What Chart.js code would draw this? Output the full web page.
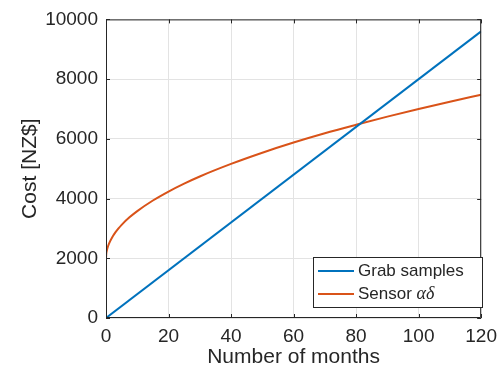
<!DOCTYPE html>
<html>
<head>
<meta charset="utf-8">
<script src="https://cdn.jsdelivr.net/npm/chart.js@4.4.1/dist/chart.umd.min.js"></script>
<style>
  html, body { margin: 0; padding: 0; background: #fff; }
  #wrap { width: 504px; height: 378px; }
</style>
</head>
<body>
<div id="wrap"><canvas id="c" width="504" height="378"></canvas></div>
<script>
// values
const grabMonths = [0, 120];
const grabCost = [0, 9600];
const sensorMonths = [0, 0.1, 0.25, 0.5, 1, 2, 3, 4, 5, 7.5, 10, 15, 20, 25, 30, 40, 50, 60, 70, 80, 90, 100, 110, 120];
const sensorCost = [2000, 2160, 2250, 2355, 2500, 2705, 2865, 3000, 3120, 3370, 3580, 3935, 4235, 4500, 4740, 5160, 5535, 5875, 6185, 6470, 6745, 7000, 7245, 7475];
const xTicks = [0, 20, 40, 60, 80, 100, 120];
const yTicks = [0, 2000, 4000, 6000, 8000, 10000];
const seriesNames = ['Grab samples', 'Sensor '];

const ink = '#262626';
const blue = '#0072BD';
const orange = '#D95319';

const toPoints = (xs, ys) => xs.map((x, i) => ({ x: x, y: ys[i] }));

const frame = {
  id: 'frame',
  afterDatasetsDraw(chart) {
    const ctx = chart.ctx;
    const a = chart.chartArea;
    const sx = chart.scales.x;
    const sy = chart.scales.y;
    ctx.save();
    ctx.strokeStyle = ink;
    ctx.lineWidth = 1;
    ctx.beginPath();
    ctx.rect(a.left + 0.5, a.top + 0.5, a.right - a.left - 1, a.bottom - a.top - 1);
    xTicks.forEach(v => {
      const px = Math.round(sx.getPixelForValue(v)) + 0.5;
      ctx.moveTo(px, a.bottom); ctx.lineTo(px, a.bottom - 4);
      ctx.moveTo(px, a.top); ctx.lineTo(px, a.top + 4);
    });
    yTicks.forEach(v => {
      const py = Math.round(sy.getPixelForValue(v)) + 0.5;
      ctx.moveTo(a.left, py); ctx.lineTo(a.left + 4, py);
      ctx.moveTo(a.right, py); ctx.lineTo(a.right - 4, py);
    });
    ctx.stroke();

    // legend box, lower right inside the axes
    const lx = 313, ly = 257, lw = 169, lh = 50;
    ctx.fillStyle = '#fff';
    ctx.fillRect(lx, ly, lw, lh);
    ctx.strokeRect(lx + 0.5, ly + 0.5, lw, lh);
    const rows = [[blue, 271], [orange, 294]];
    ctx.lineWidth = 2;
    rows.forEach(([col, y]) => {
      ctx.strokeStyle = col;
      ctx.beginPath();
      ctx.moveTo(318, y); ctx.lineTo(354, y);
      ctx.stroke();
    });
    ctx.fillStyle = ink;
    ctx.textBaseline = 'middle';
    ctx.font = '17px "Liberation Sans", Arial, sans-serif';
    ctx.fillText(seriesNames[0], 358, 271);
    ctx.fillText(seriesNames[1], 358, 294);
    const w = ctx.measureText(seriesNames[1]).width;
    ctx.font = 'italic 18px "Liberation Serif", "DejaVu Serif", serif';
    ctx.fillText('αδ', 358 + w, 294);
    ctx.restore();
  }
};

const ctx = document.getElementById('c').getContext('2d');
new Chart(ctx, {
  type: 'line',
  data: {
    datasets: [
      {
        label: seriesNames[0],
        data: toPoints(grabMonths, grabCost),
        borderColor: blue,
        borderWidth: 2,
        pointRadius: 0,
      },
      {
        label: seriesNames[1],
        data: toPoints(sensorMonths, sensorCost),
        borderColor: orange,
        borderWidth: 2,
        pointRadius: 0,
        cubicInterpolationMode: 'monotone',
      },
    ],
  },
  options: {
    responsive: false,
    animation: false,
    layout: { padding: { top: 18, right: 21, left: 0, bottom: 0 } },
    plugins: { legend: { display: false }, tooltip: { enabled: false } },
    scales: {
      x: {
        type: 'linear',
        min: 0,
        max: 120,
        afterFit: s => { s.height = 60; },
        afterBuildTicks: s => { s.ticks = xTicks.map(v => ({ value: v })); },
        grid: { color: '#e3e3e3', drawTicks: false },
        border: { display: false },
        ticks: {
          color: ink,
          padding: 7,
          callback: v => String(v),
          font: { family: '"Liberation Sans", Arial, sans-serif', size: 19 },
        },
        title: {
          display: true,
          text: 'Number of months',
          color: ink,
          padding: { top: 0, bottom: 8 },
          font: { family: '"Liberation Sans", Arial, sans-serif', size: 21 },
        },
      },
      y: {
        min: 0,
        max: 10000,
        afterFit: s => { s.width = 106; },
        afterBuildTicks: s => { s.ticks = yTicks.map(v => ({ value: v })); },
        grid: { color: '#e3e3e3', drawTicks: false },
        border: { display: false },
        ticks: {
          color: ink,
          padding: 8,
          callback: v => String(v),
          font: { family: '"Liberation Sans", Arial, sans-serif', size: 19 },
        },
        title: {
          display: true,
          text: 'Cost [NZ$]',
          color: ink,
          padding: { top: 18, bottom: 0 },
          font: { family: '"Liberation Sans", Arial, sans-serif', size: 21 },
        },
      },
    },
  },
  plugins: [frame],
});
</script>
</body>
</html>
